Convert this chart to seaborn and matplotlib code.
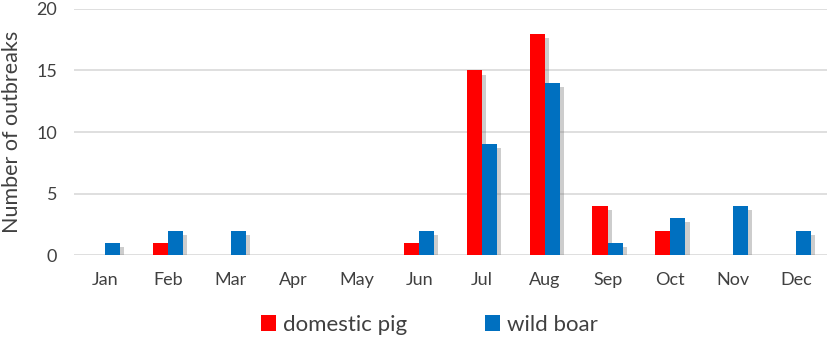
import matplotlib
matplotlib.use("Agg")
import matplotlib.pyplot as plt
import matplotlib.patheffects as pe
from matplotlib.patches import Patch
import seaborn as sns
import pandas as pd

months = ["Jan", "Feb", "Mar", "Apr", "May", "Jun", "Jul", "Aug", "Sep", "Oct", "Nov", "Dec"]
domestic_pig = [0, 1, 0, 0, 0, 1, 15, 18, 4, 2, 0, 0]
wild_boar = [1, 2, 2, 0, 0, 2, 9, 14, 1, 3, 4, 2]
series = ["domestic pig", "wild boar"]
colors = ["#FF0000", "#0070C0"]

df = pd.DataFrame({
    "month": months * 2,
    "value": domestic_pig + wild_boar,
    "series": [series[0]] * len(months) + [series[1]] * len(months),
})

sns.set_style("white")
plt.rcParams["font.family"] = ["Lato", "DejaVu Sans"]
text_color = "#404040"

fig = plt.figure(figsize=(8.29, 3.42), dpi=100)
ax = fig.add_axes([0.089, 0.254, 0.909, 0.720])

sns.barplot(data=df, x="month", y="value", hue="series", order=months,
            hue_order=series, palette=colors, width=0.48, saturation=1,
            ax=ax, legend=False, zorder=3)

for p in ax.patches:
    p.set_linewidth(0)
    p.set_path_effects([pe.SimplePatchShadow(offset=(3, -3), shadow_rgbFace="#707070", alpha=0.35),
                        pe.Normal()])

ax.set_ylim(0, 20)
ax.set_yticks([0, 5, 10, 15, 20])
ax.set_xlim(-0.5, 11.5)
ax.yaxis.grid(True, color="#D9D9D9", linewidth=1.2, zorder=0)
ax.set_axisbelow(True)
for s in ax.spines.values():
    s.set_visible(False)
ax.tick_params(axis="both", length=0, labelsize=13, labelcolor=text_color)
ax.tick_params(axis="y", pad=12)
ax.tick_params(axis="x", pad=12)
ax.set_xlabel("")
ax.set_ylabel("Number of outbreaks", fontsize=15.5, color=text_color, labelpad=10)

handles = [Patch(facecolor=c, edgecolor="none") for c in colors]
fig.legend(handles, series, loc="center", bbox_to_anchor=(0.518, 0.05), ncol=2,
           frameon=False, fontsize=16, labelcolor=text_color, handlelength=0.7,
           handleheight=0.7, handletextpad=0.3, columnspacing=3.5)

fig.savefig("out.png", dpi=100)
